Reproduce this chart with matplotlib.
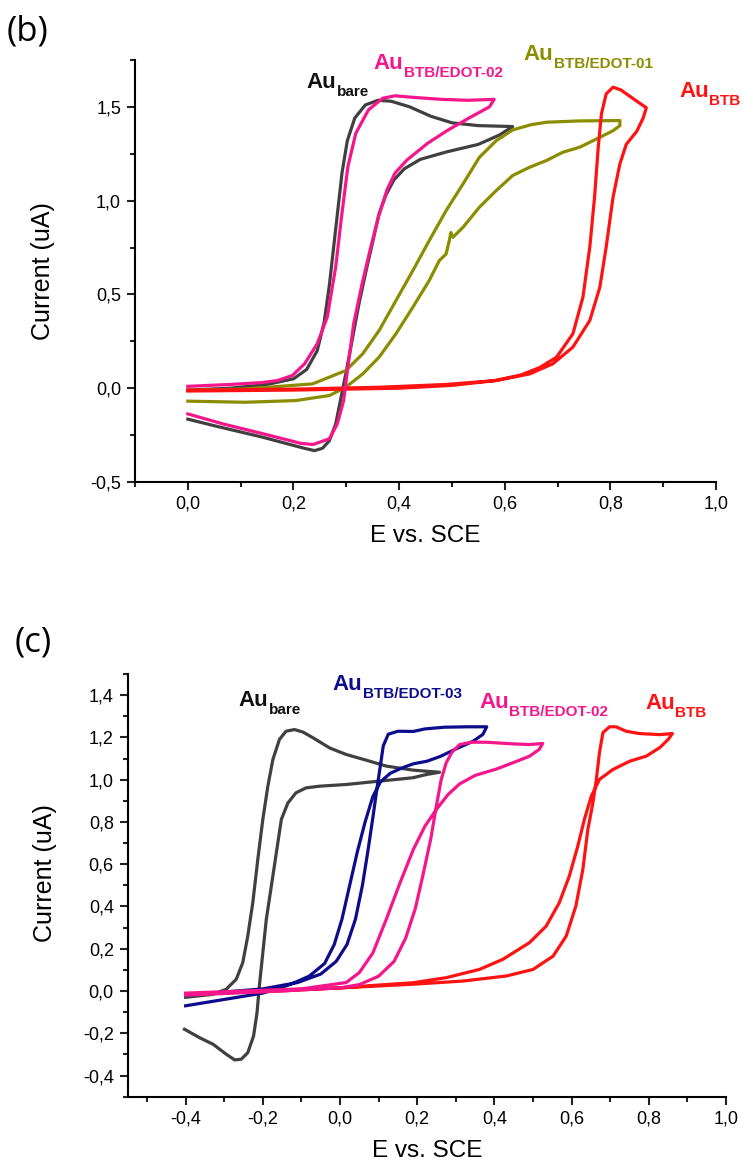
import matplotlib

matplotlib.use("Agg")
import matplotlib.pyplot as plt
from matplotlib.ticker import FuncFormatter, MultipleLocator

plt.rcParams["font.family"] = ["Liberation Sans", "DejaVu Sans"]

# ---- panel (b): cyclic voltammograms, E vs. SCE (V) and current (uA) ----
b_bare_E = [0.00, 0.08, 0.15, 0.20, 0.225, 0.245, 0.258, 0.268, 0.276, 0.284, 0.292,
            0.302, 0.316, 0.336, 0.36, 0.385, 0.42, 0.46, 0.50, 0.55, 0.615, 0.59,
            0.55, 0.49, 0.44, 0.41, 0.39, 0.375, 0.362, 0.35, 0.337, 0.324, 0.312,
            0.300, 0.290, 0.280, 0.268, 0.255, 0.24, 0.22, 0.14, 0.05, 0.00]
b_bare_I = [-0.01, 0.00, 0.02, 0.05, 0.10, 0.20, 0.35, 0.55, 0.75, 0.95, 1.15,
            1.32, 1.44, 1.51, 1.535, 1.53, 1.50, 1.45, 1.415, 1.40, 1.395, 1.35,
            1.30, 1.26, 1.22, 1.17, 1.11, 1.03, 0.93, 0.78, 0.62, 0.45, 0.27,
            0.09, -0.05, -0.19, -0.28, -0.32, -0.333, -0.32, -0.26, -0.20, -0.165]

b_edot02_E = [0.00, 0.08, 0.14, 0.17, 0.198, 0.221, 0.245, 0.264, 0.28, 0.291, 0.303,
              0.318, 0.342, 0.369, 0.392, 0.43, 0.48, 0.53, 0.58, 0.571, 0.532, 0.493,
              0.454, 0.415, 0.392, 0.377, 0.361, 0.345, 0.33, 0.314, 0.303, 0.295,
              0.283, 0.268, 0.237, 0.214, 0.144, 0.066, 0.00]
b_edot02_I = [0.01, 0.02, 0.03, 0.041, 0.068, 0.13, 0.237, 0.379, 0.647, 0.914, 1.181,
              1.359, 1.484, 1.546, 1.559, 1.55, 1.54, 1.535, 1.54, 1.50, 1.44, 1.377,
              1.306, 1.217, 1.146, 1.057, 0.914, 0.736, 0.558, 0.344, 0.112, -0.066,
              -0.19, -0.27, -0.30, -0.294, -0.244, -0.19, -0.137]

b_edot01_E = [0.00, 0.109, 0.236, 0.299, 0.331, 0.362, 0.394, 0.426, 0.457, 0.489,
              0.521, 0.552, 0.584, 0.615, 0.65, 0.679, 0.74, 0.818, 0.818, 0.805,
              0.774, 0.742, 0.71, 0.679, 0.647, 0.615, 0.584, 0.552, 0.521, 0.502,
              0.498, 0.495, 0.489, 0.476, 0.457, 0.426, 0.394, 0.362, 0.331, 0.299,
              0.268, 0.204, 0.109, 0.00]
b_edot01_I = [-0.012, -0.004, 0.023, 0.094, 0.183, 0.307, 0.467, 0.627, 0.787, 0.947,
              1.089, 1.231, 1.32, 1.377, 1.405, 1.418, 1.425, 1.427, 1.40, 1.373,
              1.329, 1.285, 1.258, 1.214, 1.178, 1.134, 1.054, 0.965, 0.858, 0.805,
              0.83, 0.787, 0.716, 0.68, 0.574, 0.432, 0.29, 0.165, 0.076, 0.005,
              -0.039, -0.066, -0.075, -0.069]

b_btb_E = [0.00, 0.2, 0.4, 0.5, 0.58, 0.63, 0.666, 0.698, 0.729, 0.748, 0.761, 0.770,
           0.777, 0.783, 0.792, 0.805, 0.82, 0.845, 0.868, 0.862, 0.85, 0.83, 0.818,
           0.805, 0.792, 0.78, 0.761, 0.729, 0.691, 0.647, 0.584, 0.489, 0.362, 0.2, 0.00]
b_btb_I = [-0.015, -0.01, 0.00, 0.015, 0.04, 0.07, 0.11, 0.165, 0.29, 0.485, 0.752, 1.018,
           1.285, 1.462, 1.569, 1.605, 1.59, 1.54, 1.495, 1.44, 1.37, 1.30, 1.196,
           1.018, 0.752, 0.538, 0.361, 0.219, 0.13, 0.076, 0.041, 0.02, 0.005, -0.005, -0.01]

# ---- panel (c) ----
c_bare_E = [-0.40, -0.33, -0.295, -0.269, -0.252, -0.239, -0.226, -0.213, -0.200, -0.187,
            -0.174, -0.157, -0.14, -0.118, -0.096, -0.07, -0.027, 0.016, 0.068, 0.12,
            0.189, 0.258, 0.223, 0.189, 0.146, 0.102, 0.016, -0.053, -0.088, -0.114,
            -0.135, -0.152, -0.165, -0.178, -0.191, -0.200, -0.209, -0.215, -0.224,
            -0.239, -0.256, -0.273, -0.295, -0.329, -0.364, -0.403]
c_bare_I = [-0.03, -0.016, 0.008, 0.055, 0.134, 0.26, 0.418, 0.623, 0.812, 0.969,
            1.095, 1.19, 1.229, 1.237, 1.225, 1.198, 1.15, 1.119, 1.092, 1.064,
            1.045, 1.035, 1.024, 1.009, 1.001, 0.993, 0.977, 0.969, 0.961, 0.938,
            0.89, 0.812, 0.654, 0.496, 0.339, 0.181, 0.024, -0.102, -0.213,
            -0.292, -0.323, -0.326, -0.299, -0.252, -0.221, -0.181]

c_edot03_E = [-0.40, -0.30, -0.20, -0.13, -0.08, -0.04, -0.015, 0.005, 0.025, 0.045,
              0.065, 0.085, 0.105, 0.13, 0.16, 0.19, 0.225, 0.26, 0.30, 0.345, 0.37,
              0.38, 0.33, 0.27, 0.22, 0.19, 0.15, 0.125, 0.112, 0.104, 0.095, 0.085,
              0.072, 0.058, 0.04, 0.018, -0.01, -0.05, -0.11, -0.20, -0.30, -0.40]
c_edot03_I = [-0.07, -0.04, -0.01, 0.03, 0.07, 0.13, 0.22, 0.34, 0.5, 0.66,
              0.8, 0.92, 0.99, 1.03, 1.055, 1.075, 1.087, 1.11, 1.145, 1.182, 1.214,
              1.25, 1.25, 1.248, 1.24, 1.228, 1.229, 1.215, 1.16, 1.06, 0.95, 0.82,
              0.66, 0.5, 0.34, 0.22, 0.14, 0.08, 0.04, 0.01, -0.005, -0.02]

c_edot02_E = [-0.40, -0.25, -0.10, 0.016, 0.05, 0.085, 0.12, 0.155, 0.19, 0.22, 0.25,
              0.28, 0.31, 0.35, 0.405, 0.448, 0.491, 0.516, 0.525, 0.49, 0.44, 0.38,
              0.34, 0.31, 0.29, 0.275, 0.262, 0.25, 0.235, 0.215, 0.195, 0.17, 0.14,
              0.10, 0.05, 0.00, -0.15, -0.40]
c_edot02_I = [-0.01, 0.0, 0.01, 0.04, 0.087, 0.18, 0.34, 0.51, 0.67, 0.78, 0.86,
              0.93, 0.98, 1.02, 1.05, 1.08, 1.111, 1.143, 1.171, 1.166, 1.17, 1.177,
              1.177, 1.166, 1.13, 1.08, 1.0, 0.88, 0.72, 0.55, 0.39, 0.25, 0.14,
              0.07, 0.03, 0.015, 0.0, -0.02]

c_btb_E = [-0.40, -0.2, 0.0, 0.1, 0.189, 0.275, 0.361, 0.422, 0.491, 0.534, 0.568,
           0.594, 0.616, 0.633, 0.651, 0.672, 0.707, 0.75, 0.793, 0.828, 0.85, 0.861,
           0.828, 0.776, 0.741, 0.715, 0.698, 0.681, 0.672, 0.664, 0.655, 0.642, 0.629,
           0.611, 0.586, 0.552, 0.50, 0.431, 0.318, 0.189, 0.016, -0.157, -0.40]
c_btb_I = [-0.015, 0.0, 0.015, 0.028, 0.039, 0.063, 0.102, 0.15, 0.229, 0.307, 0.418,
           0.544, 0.686, 0.812, 0.922, 1.001, 1.048, 1.087, 1.111, 1.151, 1.19, 1.218,
           1.213, 1.218, 1.229, 1.25, 1.25, 1.222, 1.127, 1.001, 0.89, 0.764, 0.575,
           0.402, 0.26, 0.165, 0.102, 0.071, 0.047, 0.032, 0.016, 0.0, -0.016]

GREY = "#404040"
PINK = "#f5168c"
OLIVE = "#8c8c00"
RED = "#ff1212"
NAVY = "#0c0c8c"


def comma(v, _pos):
    s = f"{v:.1f}"
    if s == "-0.0":
        s = "0.0"
    return s.replace(".", ",")


def style_axes(ax, xlim, ylim, xstep, ystep):
    ax.set_xlim(*xlim)
    ax.set_ylim(*ylim)
    for side in ("top", "right"):
        ax.spines[side].set_visible(False)
    for side in ("left", "bottom"):
        ax.spines[side].set_linewidth(1.5)
    ax.xaxis.set_major_locator(MultipleLocator(xstep))
    ax.xaxis.set_minor_locator(MultipleLocator(xstep / 2))
    ax.yaxis.set_major_locator(MultipleLocator(ystep))
    ax.yaxis.set_minor_locator(MultipleLocator(ystep / 2))
    ax.xaxis.set_major_formatter(FuncFormatter(comma))
    ax.yaxis.set_major_formatter(FuncFormatter(comma))
    ax.tick_params(which="major", direction="out", length=6, width=1.5,
                   labelsize=13, pad=4, color="#222")
    ax.tick_params(which="minor", direction="out", length=3.5, width=1.5, color="#222")


def au_label(ax, x, y, sub, color):
    t = ax.text(x, y, "Au", color=color, fontsize=16, fontweight="bold",
                va="baseline", ha="left")
    ax.annotate(sub, xy=(1, 0), xycoords=t, xytext=(0.3, -2),
                textcoords="offset points", fontsize=11, fontweight="bold",
                color=color, va="baseline", ha="left")


fig = plt.figure(figsize=(7.43, 11.6), dpi=100)

# (b)
ax_b = fig.add_axes([0.1817, 0.5845, 0.782, 0.3638])
ax_b.plot(b_bare_E, b_bare_I, color=GREY, lw=2.3)
ax_b.plot(b_edot01_E, b_edot01_I, color=OLIVE, lw=2.3)
ax_b.plot(b_btb_E, b_btb_I, color=RED, lw=2.3)
ax_b.plot(b_edot02_E, b_edot02_I, color=PINK, lw=2.3)
style_axes(ax_b, (-0.1, 1.0), (-0.5, 1.75), 0.2, 0.5)
ax_b.set_xlabel("E vs. SCE", fontsize=17.5)
ax_b.xaxis.set_label_coords(0.5, -0.103)
ax_b.set_ylabel("Current (uA)", fontsize=18)
ax_b.yaxis.set_label_coords(-0.138, 0.5)
au_label(ax_b, 0.225, 1.60, "bare", "#111111")
au_label(ax_b, 0.352, 1.70, "BTB/EDOT-02", PINK)
au_label(ax_b, 0.636, 1.75, "BTB/EDOT-01", OLIVE)
au_label(ax_b, 0.93, 1.55, "BTB", RED)
fig.text(0.009, 0.973, "(b)", fontsize=25, va="center", family="Open Sans")

# (c)
ax_c = fig.add_axes([0.1719, 0.0546, 0.8053, 0.3644])
ax_c.plot(c_bare_E, c_bare_I, color=GREY, lw=2.3)
ax_c.plot(c_edot03_E, c_edot03_I, color=NAVY, lw=2.3)
ax_c.plot(c_btb_E, c_btb_I, color=RED, lw=2.3)
ax_c.plot(c_edot02_E, c_edot02_I, color=PINK, lw=2.3)
style_axes(ax_c, (-0.55, 1.0), (-0.5, 1.5), 0.2, 0.2)
ax_c.set_xlabel("E vs. SCE", fontsize=17.5)
ax_c.xaxis.set_label_coords(0.5, -0.103)
ax_c.set_ylabel("Current (uA)", fontsize=18)
ax_c.yaxis.set_label_coords(-0.118, 0.53)
au_label(ax_c, -0.262, 1.347, "bare", "#111111")
au_label(ax_c, -0.019, 1.423, "BTB/EDOT-03", NAVY)
au_label(ax_c, 0.36, 1.34, "BTB/EDOT-02", PINK)
au_label(ax_c, 0.79, 1.332, "BTB", RED)
fig.text(0.02, 0.446, "(c)", fontsize=25, va="center", family="Open Sans")

fig.savefig("out.png", dpi=100)
